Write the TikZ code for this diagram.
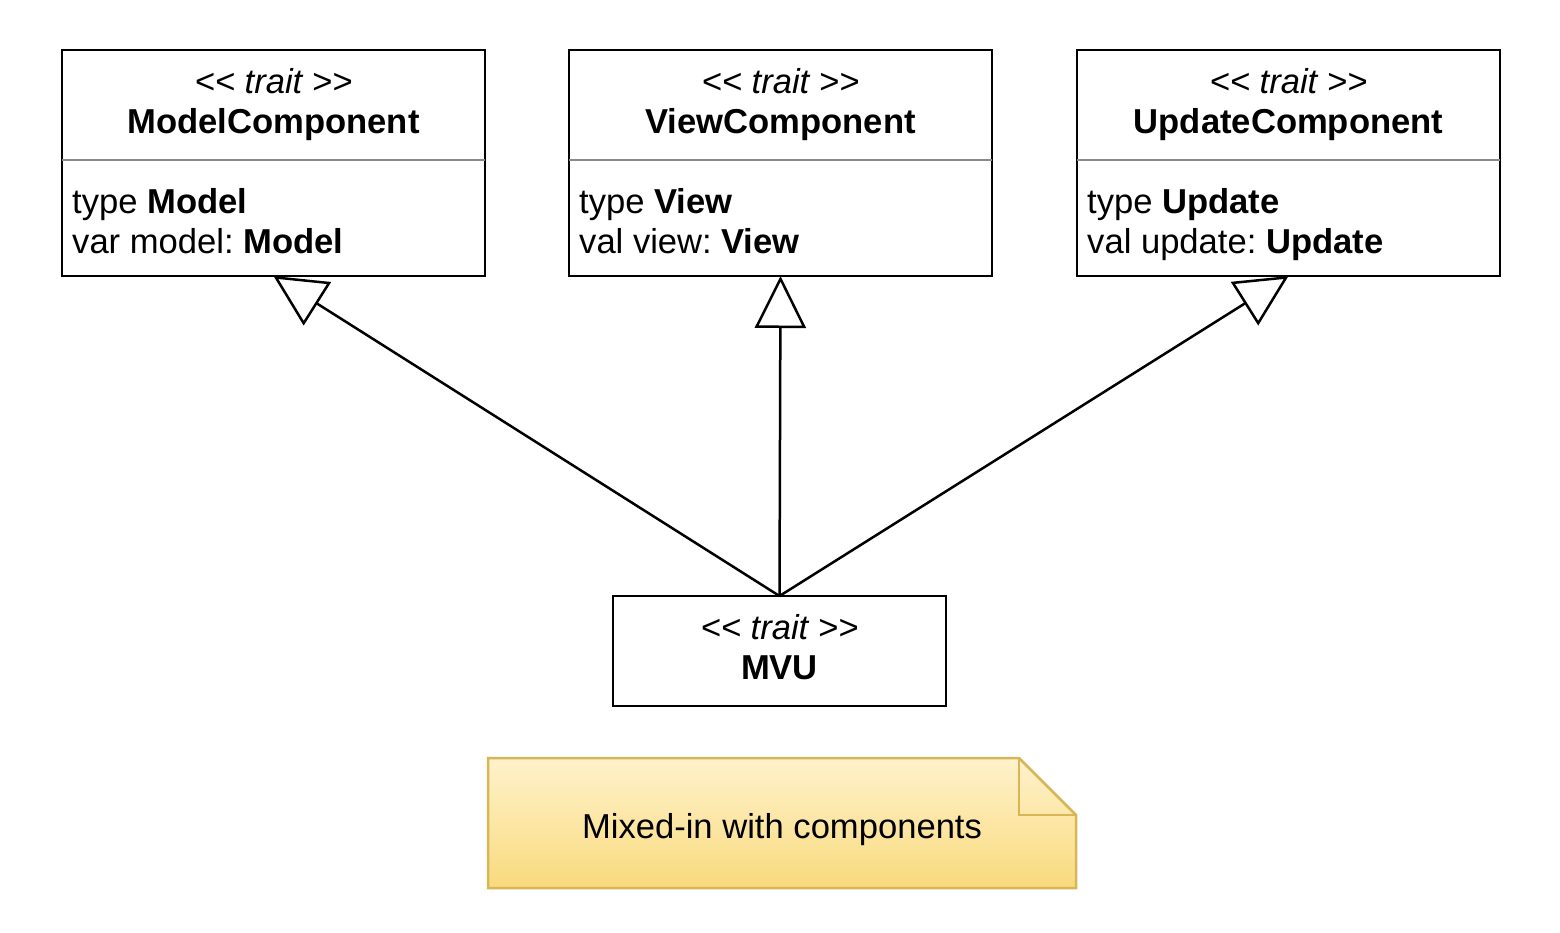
\documentclass[tikz,border=0pt]{standalone}
\usepackage{fontspec}
\setmainfont{Liberation Sans}
\usetikzlibrary{arrows.meta}
\definecolor{sepgray}{RGB}{138,138,138}
\definecolor{notefillA}{HTML}{FFF2CC}
\definecolor{notefillB}{HTML}{F8DA7D}
\definecolor{notestroke}{HTML}{D6B656}
\frenchspacing
\begin{document}
\begin{tikzpicture}[x=1pt,y=-1pt,
  umlbox/.style={draw, line width=2.5pt, rectangle, inner sep=0pt, outer sep=0pt, fill=white},
  txt/.style={anchor=base, inner sep=0pt, font=\fontsize{34.6}{40}\selectfont},
  attr/.style={txt, anchor=base west},
  sepline/.style={draw=sepgray, line width=2.5pt},
  inherit/.style={line width=2.5pt, -{Triangle[open, length=52pt, width=51pt, fill=white]}}]
\useasboundingbox (0,0) rectangle (1560,932);
% class boxes
\node[umlbox, minimum width=423pt, minimum height=226pt] (model) at (273.5,163) {};
\node[umlbox, minimum width=423pt, minimum height=226pt] (view) at (780.5,163) {};
\node[umlbox, minimum width=423pt, minimum height=226pt] (update) at (1288.5,163) {};
\node[umlbox, minimum width=333pt, minimum height=110pt] (mvu) at (779.5,651) {};
% separators
\draw[sepline] ([yshift=-110pt]model.north west) -- ([yshift=-110pt]model.north east);
\draw[sepline] ([yshift=-110pt]view.north west) -- ([yshift=-110pt]view.north east);
\draw[sepline] ([yshift=-110pt]update.north west) -- ([yshift=-110pt]update.north east);
% texts
\node[txt] (modelst) at (273.5,93) {\itshape <\kern0pt< trait >\kern0pt>};
\node[txt] (modelname) at (273.5,133) {\bfseries ModelComponent};
\node[attr] (modela1) at (72,213) {type \textbf{Model}};
\node[attr] (modela2) at (72,253) {var model: \textbf{Model}};
\node[txt] (viewst) at (780.5,93) {\itshape <\kern0pt< trait >\kern0pt>};
\node[txt] (viewname) at (780.5,133) {\bfseries ViewComponent};
\node[attr] (viewa1) at (579,213) {type \textbf{View}};
\node[attr] (viewa2) at (579,253) {val view: \textbf{View}};
\node[txt] (updatest) at (1288.5,93) {\itshape <\kern0pt< trait >\kern0pt>};
\node[txt] (updatename) at (1288.5,133) {\bfseries UpdateComponent};
\node[attr] (updatea1) at (1087,213) {type \textbf{Update}};
\node[attr] (updatea2) at (1087,253) {val update: \textbf{Update}};
\node[txt] (mvust) at (779.5,639) {\itshape <\kern0pt< trait >\kern0pt>};
\node[txt] (mvuname) at (779.5,679) {\bfseries MVU};
% inheritance
\draw[inherit] (mvu.north) -- (model.south);
\draw[inherit] (mvu.north) -- (view.south);
\draw[inherit] (mvu.north) -- (update.south);
% note
\path[top color=notefillA, bottom color=notefillB, draw=notestroke, line width=2.5pt]
  (488,758) -- (1019,758) -- (1076,815) -- (1076,888) -- (488,888) -- cycle;
\draw[notestroke, line width=2.5pt] (1019,758) -- (1019,815) -- (1076,815);
\node[txt] (notetext) at (782,838) {Mixed-in with components};
\end{tikzpicture}
\end{document}
